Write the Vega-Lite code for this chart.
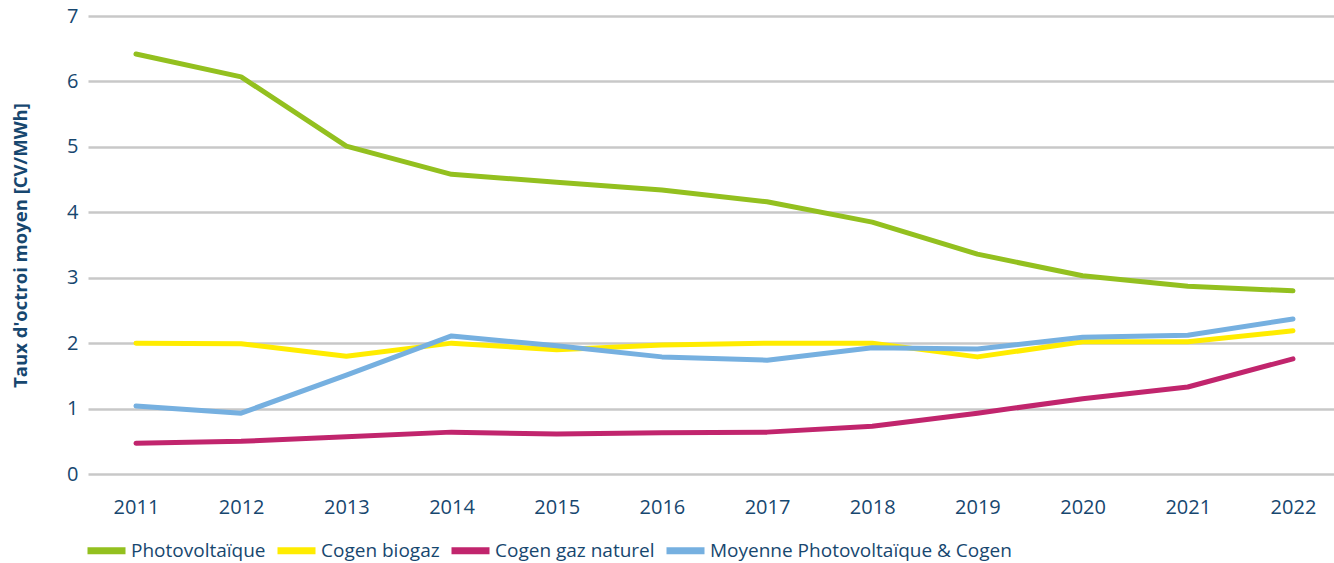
{
  "$schema": "https://vega.github.io/schema/vega-lite/v6.json",
  "width": 1246,
  "height": 458,
  "autosize": {"type": "none"},
  "padding": {"left": 88, "top": 16, "right": 0, "bottom": 89},
  "background": "white",
  "config": {
    "view": {"stroke": null},
    "font": "Open Sans",
    "text": {"font": "Open Sans"}
  },
  "data": {
    "values": [
      {"annee": 2011, "serie": "Photovoltaïque", "taux": 6.42},
      {"annee": 2012, "serie": "Photovoltaïque", "taux": 6.07},
      {"annee": 2013, "serie": "Photovoltaïque", "taux": 5.01},
      {"annee": 2014, "serie": "Photovoltaïque", "taux": 4.58},
      {"annee": 2015, "serie": "Photovoltaïque", "taux": 4.46},
      {"annee": 2016, "serie": "Photovoltaïque", "taux": 4.34},
      {"annee": 2017, "serie": "Photovoltaïque", "taux": 4.16},
      {"annee": 2018, "serie": "Photovoltaïque", "taux": 3.85},
      {"annee": 2019, "serie": "Photovoltaïque", "taux": 3.36},
      {"annee": 2020, "serie": "Photovoltaïque", "taux": 3.03},
      {"annee": 2021, "serie": "Photovoltaïque", "taux": 2.87},
      {"annee": 2022, "serie": "Photovoltaïque", "taux": 2.80},
      {"annee": 2011, "serie": "Cogen biogaz", "taux": 2.00},
      {"annee": 2012, "serie": "Cogen biogaz", "taux": 1.99},
      {"annee": 2013, "serie": "Cogen biogaz", "taux": 1.80},
      {"annee": 2014, "serie": "Cogen biogaz", "taux": 2.00},
      {"annee": 2015, "serie": "Cogen biogaz", "taux": 1.90},
      {"annee": 2016, "serie": "Cogen biogaz", "taux": 1.97},
      {"annee": 2017, "serie": "Cogen biogaz", "taux": 2.00},
      {"annee": 2018, "serie": "Cogen biogaz", "taux": 2.00},
      {"annee": 2019, "serie": "Cogen biogaz", "taux": 1.79},
      {"annee": 2020, "serie": "Cogen biogaz", "taux": 2.02},
      {"annee": 2021, "serie": "Cogen biogaz", "taux": 2.02},
      {"annee": 2022, "serie": "Cogen biogaz", "taux": 2.19},
      {"annee": 2011, "serie": "Cogen gaz naturel", "taux": 0.47},
      {"annee": 2012, "serie": "Cogen gaz naturel", "taux": 0.50},
      {"annee": 2013, "serie": "Cogen gaz naturel", "taux": 0.57},
      {"annee": 2014, "serie": "Cogen gaz naturel", "taux": 0.64},
      {"annee": 2015, "serie": "Cogen gaz naturel", "taux": 0.61},
      {"annee": 2016, "serie": "Cogen gaz naturel", "taux": 0.63},
      {"annee": 2017, "serie": "Cogen gaz naturel", "taux": 0.64},
      {"annee": 2018, "serie": "Cogen gaz naturel", "taux": 0.73},
      {"annee": 2019, "serie": "Cogen gaz naturel", "taux": 0.93},
      {"annee": 2020, "serie": "Cogen gaz naturel", "taux": 1.15},
      {"annee": 2021, "serie": "Cogen gaz naturel", "taux": 1.33},
      {"annee": 2022, "serie": "Cogen gaz naturel", "taux": 1.76},
      {"annee": 2011, "serie": "Moyenne Photovoltaïque & Cogen", "taux": 1.04},
      {"annee": 2012, "serie": "Moyenne Photovoltaïque & Cogen", "taux": 0.93},
      {"annee": 2013, "serie": "Moyenne Photovoltaïque & Cogen", "taux": 1.51},
      {"annee": 2014, "serie": "Moyenne Photovoltaïque & Cogen", "taux": 2.11},
      {"annee": 2015, "serie": "Moyenne Photovoltaïque & Cogen", "taux": 1.96},
      {"annee": 2016, "serie": "Moyenne Photovoltaïque & Cogen", "taux": 1.79},
      {"annee": 2017, "serie": "Moyenne Photovoltaïque & Cogen", "taux": 1.74},
      {"annee": 2018, "serie": "Moyenne Photovoltaïque & Cogen", "taux": 1.93},
      {"annee": 2019, "serie": "Moyenne Photovoltaïque & Cogen", "taux": 1.91},
      {"annee": 2020, "serie": "Moyenne Photovoltaïque & Cogen", "taux": 2.09},
      {"annee": 2021, "serie": "Moyenne Photovoltaïque & Cogen", "taux": 2.12},
      {"annee": 2022, "serie": "Moyenne Photovoltaïque & Cogen", "taux": 2.37}
    ]
  },
  "mark": {"type": "line", "strokeWidth": 5, "strokeCap": "round", "strokeJoin": "round"},
  "encoding": {
    "x": {
      "field": "annee",
      "type": "quantitative",
      "scale": {"domain": [2010.544, 2022.39], "nice": false, "zero": false},
      "axis": {
        "title": null,
        "values": [2011, 2012, 2013, 2014, 2015, 2016, 2017, 2018, 2019, 2020, 2021, 2022],
        "format": "d",
        "grid": false,
        "domain": false,
        "ticks": false,
        "labelFont": "Open Sans",
        "labelFontSize": 20,
        "labelColor": "#17476f",
        "labelPadding": 23
      }
    },
    "y": {
      "field": "taux",
      "type": "quantitative",
      "scale": {"domain": [0, 7], "nice": false},
      "axis": {
        "title": "Taux d'octroi moyen [CV/MWh]",
        "titleFont": "Open Sans",
        "titleFontSize": 18.5,
        "titleFontWeight": "bold",
        "titleColor": "#17476f",
        "titleX": -68,
        "titleY": 229,
        "titleAngle": -90,
        "titleAlign": "center",
        "titleBaseline": "middle",
        "values": [0, 1, 2, 3, 4, 5, 6, 7],
        "grid": true,
        "gridColor": "#c8c8c8",
        "gridWidth": 2.5,
        "domain": false,
        "ticks": false,
        "labelFont": "Open Sans",
        "labelFontSize": 20,
        "labelColor": "#17476f",
        "labelPadding": 10
      }
    },
    "color": {
      "field": "serie",
      "type": "nominal",
      "sort": ["Photovoltaïque", "Cogen biogaz", "Cogen gaz naturel", "Moyenne Photovoltaïque & Cogen"],
      "scale": {
        "domain": ["Photovoltaïque", "Cogen biogaz", "Cogen gaz naturel", "Moyenne Photovoltaïque & Cogen"],
        "range": ["#93c01f", "#ffec00", "#c1256d", "#76b0e0"]
      },
      "legend": {
        "title": null,
        "orient": "none",
        "direction": "horizontal",
        "legendX": -4,
        "legendY": 512,
        "symbolType": "stroke",
        "symbolSize": 1444,
        "symbolStrokeWidth": 7,
        "labelFont": "Open Sans",
        "labelFontSize": 19,
        "labelColor": "#17476f",
        "labelOffset": 2,
        "columnPadding": -3,
        "labelLimit": 400
      }
    }
  }
}
